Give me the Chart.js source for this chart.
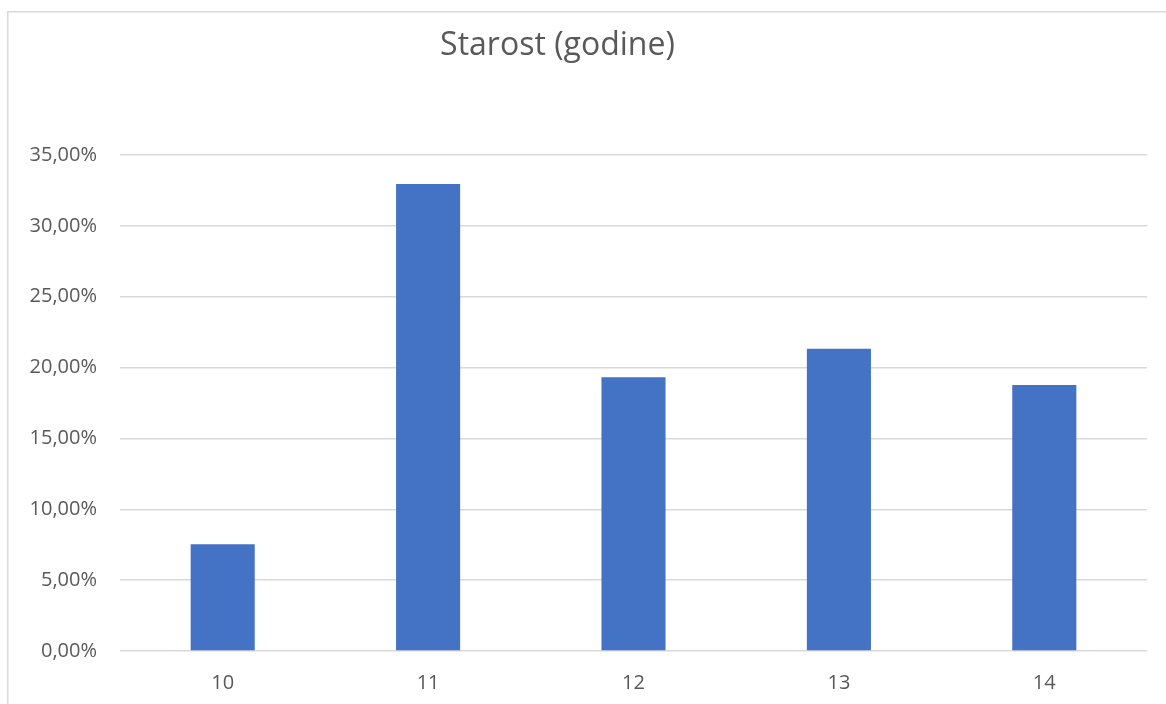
<!DOCTYPE html>
<html>
<head>
<meta charset="utf-8">
<script src="https://cdn.jsdelivr.net/npm/chart.js@4/dist/chart.umd.min.js"></script>
<style>
  html, body { margin: 0; padding: 0; background: #fff; overflow: hidden; }
  #wrap { position: absolute; left: 0; top: 0; width: 1166px; height: 704px; }
</style>
</head>
<body>
<div id="wrap"><canvas id="c" width="1166" height="704"></canvas></div>
<script>
const chartTitle = 'Starost (godine)';
const categories = ['10', '11', '12', '13', '14'];
const shares = [7.53, 32.96, 19.31, 21.33, 18.77];
const yTicks = [0, 5, 10, 15, 20, 25, 30, 35];

const TEXT = '#595959';
const GRID = '#d9d9d9';
const BAR = '#4472C4';

const framePlugin = {
  id: 'frame',
  beforeDraw(chart) {
    const ctx = chart.ctx;
    ctx.save();
    ctx.fillStyle = '#ffffff';
    ctx.fillRect(0, 0, chart.width, chart.height);
    ctx.strokeStyle = GRID;
    ctx.lineWidth = 1.5;
    ctx.strokeRect(7.75, 11.75, chart.width + 20, chart.height + 20);
    ctx.restore();
  },
  afterDraw(chart) {
    const ctx = chart.ctx;
    ctx.save();
    ctx.fillStyle = TEXT;
    ctx.font = 'normal 32px "Open Sans"';
    ctx.textAlign = 'center';
    ctx.textBaseline = 'middle';
    ctx.fillText(chartTitle, 557.5, 46);
    ctx.restore();
  }
};

new Chart(document.getElementById('c'), {
  type: 'bar',
  data: {
    labels: categories,
    datasets: [{
      data: shares,
      backgroundColor: BAR,
      borderWidth: 0,
      categoryPercentage: 1,
      barPercentage: 0.312
    }]
  },
  options: {
    responsive: false,
    devicePixelRatio: 1,
    animation: false,
    layout: { padding: { left: 0, right: 19, top: 155, bottom: 0 } },
    plugins: {
      legend: { display: false },
      tooltip: { enabled: false },
      title: { display: false }
    },
    scales: {
      x: {
        grid: { display: false, drawTicks: false },
        border: { display: false },
        ticks: {
          color: TEXT,
          font: { family: 'Open Sans', size: 20 },
          padding: 20,
          maxRotation: 0
        },
        afterFit(scale) { scale.height = 53; }
      },
      y: {
        min: 0,
        max: 35,
        afterBuildTicks(scale) { scale.ticks = yTicks.map(v => ({ value: v })); },
        grid: { color: GRID, lineWidth: 1.5, drawTicks: false },
        border: { display: false },
        ticks: {
          color: TEXT,
          font: { family: 'Open Sans', size: 20 },
          padding: 23,
          callback: (v) => v.toFixed(2).replace('.', ',') + '%'
        },
        afterFit(scale) { scale.width = 120; }
      }
    }
  },
  plugins: [framePlugin]
});
</script>
</body>
</html>
